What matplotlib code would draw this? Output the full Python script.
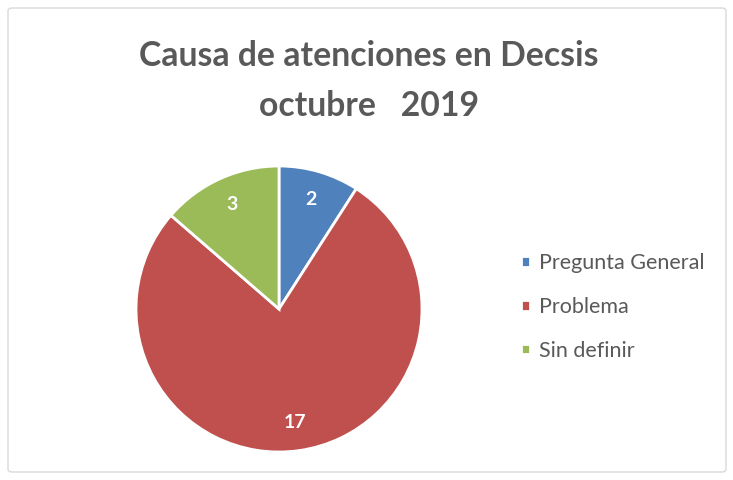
import matplotlib.pyplot as plt
from matplotlib.patches import FancyBboxPatch

# data
categorias = ['Pregunta General', 'Problema', 'Sin definir']
valores = [2, 17, 3]
colores = ['#4F81BD', '#C0504D', '#9BBB59']
titulo = 'Causa de atenciones en Decsis\noctubre   2019'

W, H = 733, 480
fig = plt.figure(figsize=(W/100, H/100), dpi=100)
fig.patch.set_facecolor('white')

# chart border
borde = FancyBboxPatch((8/W, 8/H), 718/W, 464/H, boxstyle='round,pad=0,rounding_size=0.006',
                       transform=fig.transFigure, fill=False, edgecolor='#D9D9D9', lw=1)
fig.patches.append(borde)

# pie
cx, cy, r = 279, 309, 143
ax = fig.add_axes([(cx - r)/W, (H - cy - r)/H, 2*r/W, 2*r/H])
wedges, textos = ax.pie(valores, colors=colores, startangle=90, counterclock=False,
                        labels=[str(v) for v in valores], labeldistance=0.8,
                        wedgeprops=dict(edgecolor='white', linewidth=2),
                        textprops=dict(color='white', fontweight='bold', fontsize=14,
                                       family='Lato'))
for t in textos:
    t.set_horizontalalignment('center')
    t.set_verticalalignment('center')
ax.set_xlim(-1, 1)
ax.set_ylim(-1, 1)
ax.set_aspect('equal')

fig.text(369/W, 1 - 81/H, titulo, ha='center', va='center', fontsize=24.3,
         fontweight='bold', color='#595959', family='Lato', linespacing=1.72)

fig.legend(wedges, categorias, loc='center left', bbox_to_anchor=(521/W, 1 - 307/H),
           frameon=False, borderpad=0, borderaxespad=0,
           handlelength=0.4, handleheight=0.4, handletextpad=0.42,
           labelspacing=1.1, prop=dict(family='Lato', size=15.5), labelcolor='#595959')

fig.savefig('out.png', dpi=100)
